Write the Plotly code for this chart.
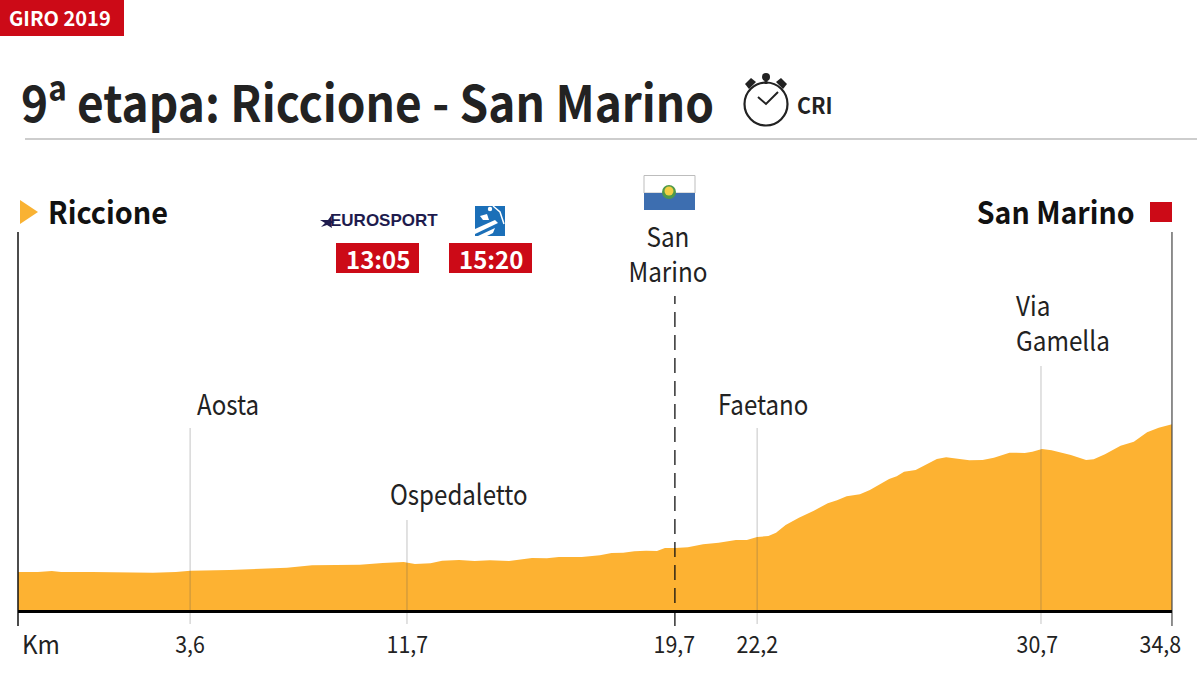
# perfil etapa 9 Giro 2019 with plotly
import plotly.graph_objects as go

# profile (altitude in drawing units, no scale printed)
km = [0, 0.60, 1.02, 1.30, 2.23, 2.93, 4.07, 4.76, 5.20, 6.38, 6.96, 8.11, 8.87, 9.61, 10.31, 11.0, 11.63, 11.97,
      12.44, 12.79, 13.30, 13.77, 14.23, 14.81, 15.50, 15.95, 16.31, 17.0, 17.55, 17.90, 18.25, 18.59, 18.94, 19.27,
      19.51, 19.82, 20.2, 20.66, 21.13, 21.65, 21.98, 22.29, 22.63, 22.86, 23.15, 23.55, 24.0, 24.42, 24.7, 24.99,
      25.39, 25.69, 26.27, 26.5, 26.72, 27.07, 27.3, 27.71, 27.99, 28.29, 28.69, 29.09, 29.43, 29.9, 30.36, 30.59,
      30.88, 31.17, 31.75, 32.21, 32.44, 32.78, 33.25, 33.65, 34.05, 34.4, 34.8]
alt = [38, 38, 39, 38, 38, 37.7, 37.3, 38, 39.3, 40, 41, 42.3, 44.7, 45, 45.3, 47, 48, 46,
       46.7, 49.3, 50, 49, 49.7, 49, 52, 51.7, 53, 53, 54.7, 57, 57.3, 58.7, 59.3, 59,
       62, 62, 62.7, 65.7, 67.3, 70, 70, 73, 74, 77.3, 85, 92.3, 99.3, 106.7, 109.7, 113.7,
       115.7, 120, 131, 133.7, 138.3, 140, 143.7, 151, 152.7, 151.7, 149.7, 150, 152.3, 157.3, 157, 158.3,
       161, 159.7, 155, 150, 150.7, 155.7, 164.3, 168.3, 177.7, 182.3, 185.7]

# marks along the road
mark_km = [5.19, 11.73, 22.29, 30.85]
mark_top = [182, 90, 182, 244]
tick_labels = ["3,6", "11,7", "19,7", "22,2", "30,7", "34,8"]
tick_label_km = [5.19, 11.76, 19.81, 22.29, 30.75, 34.45]

INK = "#222222"
RED = "#cc0a17"
ORANGE = "#fdb232"
BIG = "Noto Sans CJK SC"
NAVY = "#1e1b4d"
BLUE = "#1b6fb8"

# no condensed font here, so the text gets squeezed sideways after drawing
SQUEEZE_JS = """
var gd = document.querySelector('.plotly-graph-div');
document.body.style.margin = '0';
gd.layout.annotations.forEach(function (a, i) {
    var t = gd.querySelector('.annotation[data-index="' + i + '"] text');
    t.style.transformBox = 'fill-box';
    t.style.transformOrigin = {left: '0 0', right: '100% 0', center: '50% 0'}[a.xanchor];
    t.style.transform = 'scaleX(' + a.name + ')';
});
"""


def px(x):
    return x / 1200


def py(y):
    return 1 - y / 675


def text(x, y, s, size, color=INK, anchor="left", font=BIG, squeeze=1):
    fig.add_annotation(x=px(x), y=py(y), xref="paper", yref="paper", text=s, showarrow=False,
                       xanchor=anchor, yanchor="middle", align=anchor, borderpad=0, name=str(squeeze),
                       font=dict(family=font, size=size, color=color))


def rect(x0, y0, x1, y1, color, line=None):
    fig.add_shape(type="rect", xref="paper", yref="paper", x0=px(x0), x1=px(x1), y0=py(y0), y1=py(y1),
                  fillcolor=color, line=dict(width=1 if line else 0, color=line or color))


def path(points, color, line=None, width=0):
    d = "M " + " L ".join(f"{px(a)} {py(b)}" for a, b in points)
    if line is None:
        d += " Z"
    fig.add_shape(type="path", xref="paper", yref="paper", path=d,
                  fillcolor=color if line is None else "rgba(0,0,0,0)",
                  line=dict(width=width, color=line or color))


def circle(cx, cy, r, color, line=None, width=0):
    fig.add_shape(type="circle", xref="paper", yref="paper", x0=px(cx - r), x1=px(cx + r), y0=py(cy - r), y1=py(cy + r),
                  fillcolor=color, line=dict(width=width, color=line or color))


fig = go.Figure()
fig.add_trace(go.Scatter(x=km, y=alt, mode="lines", fill="tozeroy", fillcolor=ORANGE,
                         line=dict(width=0, color=ORANGE), hoverinfo="skip", showlegend=False))

# vertical lines and baseline
for k, top in zip(mark_km, mark_top):
    fig.add_shape(type="line", x0=k, x1=k, y0=-14, y1=top, line=dict(color="rgba(90,90,90,0.35)", width=1))
fig.add_shape(type="line", x0=19.81, x1=19.81, y0=-16, y1=314, line=dict(color="#111111", width=1.3, dash="15px,8px"))
fig.add_shape(type="line", x0=0, x1=0, y0=-16, y1=378, line=dict(color="#111111", width=1.5))
fig.add_shape(type="line", x0=34.8, x1=34.8, y0=-16, y1=378, line=dict(color="#444444", width=1.2))
fig.add_shape(type="line", x0=0, x1=34.8, y0=-1.5, y1=-1.5, line=dict(color="#000000", width=3))

# header
rect(0, 0, 124, 36, RED)
text(8, 18, "<b>GIRO 2019</b>", 20, "white")
text(20, 100, "<b>9ª etapa: Riccione - San Marino</b>", 50, squeeze=0.92)
rect(25, 138.2, 1197, 139.8, "#bcbcbc")

# stopwatch
circle(766, 104, 21.5, "white", INK, 2.2)
path([(758, 97), (766, 104), (778, 92)], "white", INK, 2)
rect(764.5, 78, 767.5, 84, INK)
circle(766, 77, 4, INK)
path([(745, 84), (751, 78), (756, 82), (749, 89)], INK)
path([(787, 84), (781, 78), (776, 82), (783, 89)], INK)
text(796, 104, "<b>CRI</b>", 22, squeeze=0.97)

# start / finish
path([(20, 200), (38, 212), (20, 224)], "#f9b233")
text(47, 211, "<b>Riccione</b>", 31, "#111111", squeeze=0.93)
text(1136, 211, "<b>San Marino</b>", 31, "#111111", "right", squeeze=0.92)
rect(1150, 202, 1172, 222, RED)

# tv
path([(320, 220), (328, 220), (332, 214.5), (331, 220.5), (335, 222), (331, 223.5), (332, 228),
      (327, 225), (321, 227), (325, 223)], NAVY)
text(329, 220, "<b>EUROSPORT</b>", 17, NAVY, font="Liberation Sans")
rect(475, 206, 505, 236, BLUE)
circle(490, 209, 2.2, "white")
path([(493, 206), (500, 212), (504, 224)], BLUE, "white", 1.5)
path([(480, 216), (487, 214), (489, 220), (483, 220)], "white")
path([(475, 229), (495, 220), (498, 223), (475, 234)], "white")
path([(478, 236), (495, 228), (493, 233), (487, 236)], "white")
rect(336, 243, 419, 273, RED)
rect(449, 243, 532, 273, RED)
text(377.5, 258, "<b>13:05</b>", 24, "white", "center")
text(490.5, 258, "<b>15:20</b>", 24, "white", "center")

# flag
rect(644, 175.5, 695, 193, "white", "#bdbdbd")
rect(644, 193, 695, 210, "#3d6eb0")
circle(669, 192, 7, "#4f9a4a")
circle(669, 191, 4.5, "#f2cf45")

# place names
text(668, 253, "San<br>Marino", 27, anchor="center", squeeze=0.9)
text(196, 403, "Aosta", 28, squeeze=0.86)
text(389, 493, "Ospedaletto", 28, squeeze=0.86)
text(717, 403, "Faetano", 28, squeeze=0.86)
text(1015, 322, "Via<br>Gamella", 27, squeeze=0.9)

# axis labels
text(21, 642, "Km", 26, squeeze=0.93)
for k, lab in zip(tick_label_km, tick_labels):
    text(18 + k * 33.16, 643, lab, 23, anchor="center", squeeze=0.93)

fig.update_layout(width=1200, height=675, margin=dict(l=0, r=0, t=0, b=0), template="none",
                  paper_bgcolor="white", plot_bgcolor="white", showlegend=False)
fig.update_xaxes(range=[-18 / 33.16, 1182 / 33.16], visible=False)
fig.update_yaxes(range=[-65, 610], visible=False)
fig.write_html("out.html", config=dict(displayModeBar=False), post_script=SQUEEZE_JS)
